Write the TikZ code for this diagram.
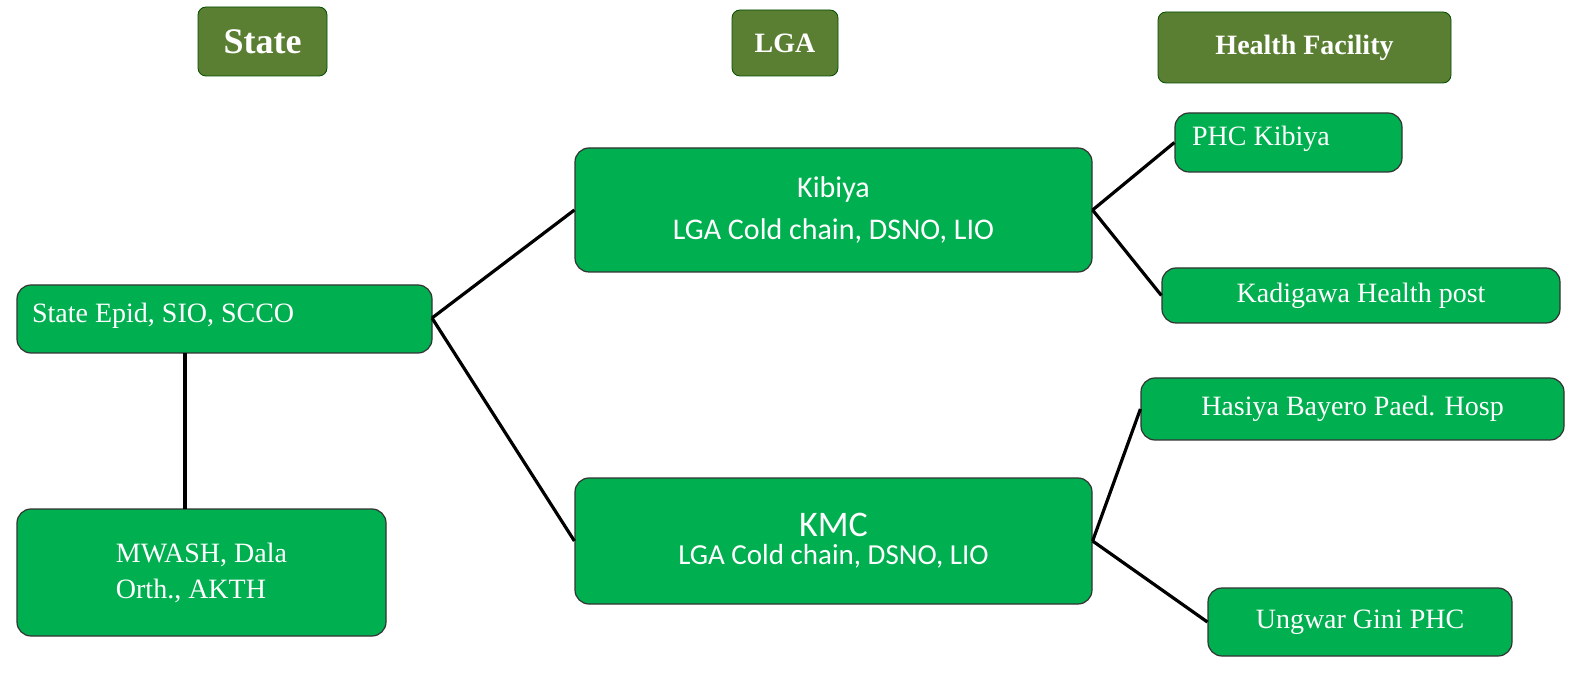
\documentclass[tikz,border=0pt]{standalone}
\usepackage{fontspec}
\setmainfont{Liberation Serif}
\newfontfamily\carlitofont{Carlito}
\begin{document}
\begin{tikzpicture}[x=0.5pt,y=-0.5pt,
 hdr/.style={draw=black!70!green,fill=hdrgreen,rounded corners=4pt,text=white,font=\bfseries},
 gb/.style={draw=black!80,fill=boxgreen,rounded corners=7pt,text=white,line width=0.6pt},
 ln/.style={line width=1.6pt}]
\definecolor{hdrgreen}{HTML}{5B7F32}
\definecolor{boxgreen}{HTML}{00B050}
\useasboundingbox (0,0) rectangle (1595,678);
\node[hdr,minimum width=64.5pt,minimum height=34.5pt,font=\bfseries\fontsize{18}{20}\selectfont] (hs) at (262.5,41.5) {State};
\node[hdr,minimum width=53pt,minimum height=33pt,font=\bfseries\fontsize{14}{16}\selectfont] (hl) at (785,43) {LGA};
\node[hdr,minimum width=146.5pt,minimum height=35.5pt,font=\bfseries\fontsize{14}{16}\selectfont] (hf) at (1304.5,47.5) {Health Facility};
\node[gb,minimum width=207.5pt,minimum height=34pt,font=\fontsize{14}{16}\selectfont] (se) at (224.5,319) {};
\node[anchor=west,text=white,font=\fontsize{14}{16}\selectfont] (set) at (25,316) {State Epid, SIO, SCCO};
\node[gb,minimum width=184.5pt,minimum height=63.5pt,align=left,font=\fontsize{14}{18}\selectfont] (mw) at (201.5,572.5) {MWASH, Dala\\Orth., AKTH};
\node[gb,minimum width=258.5pt,minimum height=62pt,align=center,font=\carlitofont\fontsize{15}{21}\selectfont] (ki) at (833.5,210) {Kibiya\\LGA Cold chain, DSNO, LIO};
\node[gb,minimum width=258.5pt,minimum height=63pt,align=center] (km) at (833.5,541) {{\carlitofont\fontsize{18}{22}\selectfont KMC}\\[2pt]{\carlitofont\fontsize{14.5}{18}\selectfont LGA Cold chain, DSNO, LIO}};
\node[gb,minimum width=113.5pt,minimum height=29.5pt] (p1) at (1288.5,142.5) {};
\node[anchor=west,text=white,font=\fontsize{14}{16}\selectfont] (p1t) at (1185,139) {PHC Kibiya};
\node[gb,minimum width=199pt,minimum height=27.5pt,font=\fontsize{14}{16}\selectfont] (p2) at (1361,295.5) {Kadigawa Health post};
\node[gb,minimum width=211.5pt,minimum height=31pt,font=\fontsize{14}{16}\selectfont] (p3) at (1352.5,409) {Hasiya Bayero Paed. Hosp};
\node[gb,minimum width=152pt,minimum height=34pt,font=\fontsize{14}{16}\selectfont] (p4) at (1360,622) {Ungwar Gini PHC};
\coordinate (seR) at (432,318);
\coordinate (vt) at (185,353);
\coordinate (vb) at (185,509);
\draw[ln] (seR) -- (ki.west);
\draw[ln] (seR) -- (km.west);
\draw[ln] (vt) -- (vb);
\draw[ln] (ki.east) -- (p1.west);
\draw[ln] (ki.east) -- (p2.west);
\draw[ln] (km.east) -- (p3.west);
\draw[ln] (km.east) -- (p4.west);
\end{tikzpicture}
\end{document}
